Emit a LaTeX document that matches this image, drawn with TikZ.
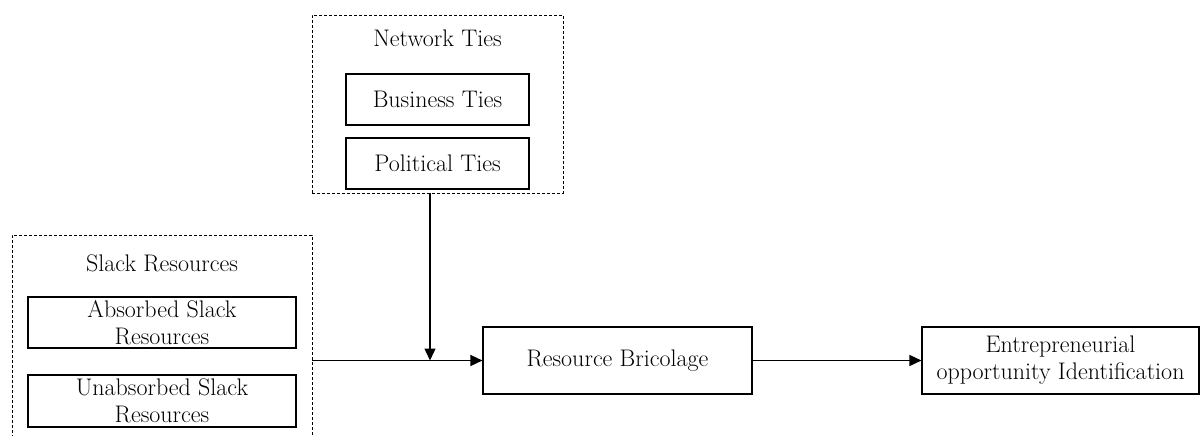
\documentclass[tikz,border=0pt]{standalone}
\usetikzlibrary{arrows.meta}
\begin{document}
\begin{tikzpicture}[x=1pt,y=-1pt,
  box/.style={draw,line width=1.1pt,inner sep=0pt,align=center,font=\fontsize{24}{27}\selectfont},
  dbox/.style={draw,line width=0.8pt,dash pattern=on 3pt off 2pt,inner sep=0pt},
  lbl/.style={anchor=base,font=\fontsize{24}{27}\selectfont},
  arr/.style={line width=1.4pt,-{Triangle[length=12pt,width=11pt]}}]
\clip (0,0) rectangle (1200,436);
% Network ties group
\node[dbox,minimum width=251pt,minimum height=178pt] (net) at (437.5,104) {};
\node[lbl] (netl) at (437.5,47) {Network Ties};
\node[box,minimum width=183pt,minimum height=51pt] (bus) at (437.5,99.5) {Business Ties};
\node[box,minimum width=183pt,minimum height=51pt] (pol) at (437.5,163.5) {Political Ties};
% Slack resources group
\node[dbox,minimum width=300pt,minimum height=230pt] (slack) at (162,350) {};
\node[lbl] (slackl) at (162,271) {Slack Resources};
\node[box,minimum width=268pt,minimum height=51pt] (abs) at (162,322.5) {Absorbed Slack\\Resources};
\node[box,minimum width=268pt,minimum height=52pt] (unabs) at (162,401) {Unabsorbed Slack\\Resources};
% main boxes
\node[box,minimum width=269pt,minimum height=67pt] (rb) at (617.5,360.5) {Resource Bricolage};
\node[box,minimum width=277pt,minimum height=67pt] (eoi) at (1060.5,360.5) {Entrepreneurial\\opportunity Identification};
% connectors
\coordinate (j) at (430,360.5);
\draw[arr] (slack.east |- rb.west) -- (rb.west);
\draw[arr] (j |- net.south) -- (j);
\draw[arr] (rb.east) -- (eoi.west);
\end{tikzpicture}
\end{document}
